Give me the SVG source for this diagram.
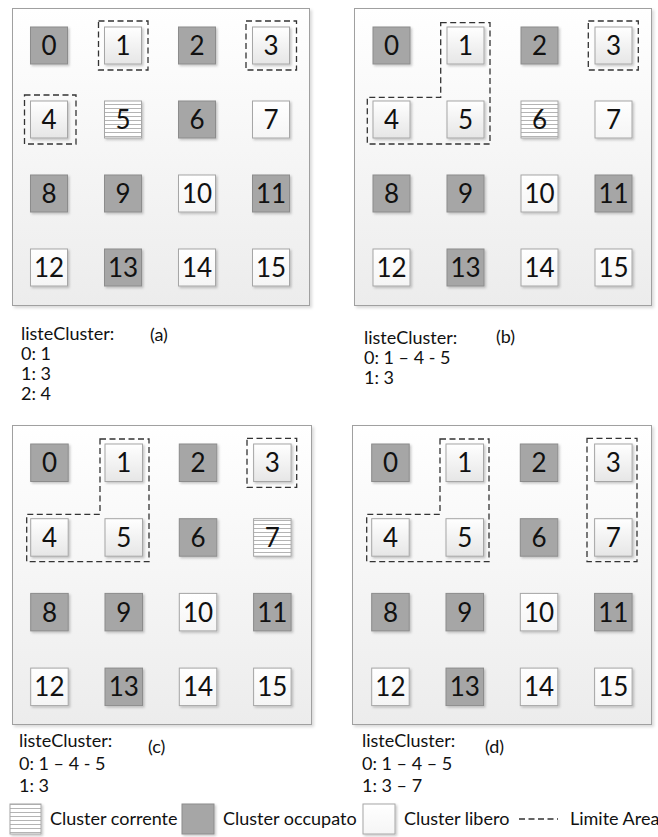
<svg xmlns="http://www.w3.org/2000/svg" width="658" height="837" viewBox="0 0 658 837">
<defs>
<linearGradient id="gPanel" x1="0" y1="0" x2="0" y2="1"><stop offset="0" stop-color="#ffffff"/><stop offset="1" stop-color="#ececec"/></linearGradient>
<linearGradient id="gArea" x1="0" y1="0" x2="0" y2="1"><stop offset="0" stop-color="#ffffff"/><stop offset="1" stop-color="#e6e6e6"/></linearGradient>
<linearGradient id="gFree" x1="0" y1="0" x2="0" y2="1"><stop offset="0" stop-color="#ffffff"/><stop offset="1" stop-color="#f5f5f5"/></linearGradient>
<pattern id="hatch" patternUnits="userSpaceOnUse" width="8" height="4"><rect width="8" height="4" fill="#ffffff"/><rect y="0" width="8" height="1" fill="#b4b4b4"/></pattern>
<filter id="sh" x="-20%" y="-20%" width="150%" height="150%"><feDropShadow dx="1.5" dy="1.5" stdDeviation="1" flood-color="#000" flood-opacity="0.22"/></filter>
<filter id="shp" x="-5%" y="-5%" width="110%" height="110%"><feDropShadow dx="2" dy="2" stdDeviation="1.5" flood-color="#000" flood-opacity="0.15"/></filter>
</defs>
<style>
.panel{fill:url(#gPanel);stroke:#a0a0a0;stroke-width:1;filter:url(#shp)}
.occ{fill:#a6a6a6;stroke:#8c8c8c;stroke-width:1;filter:url(#sh)}
.free{fill:url(#gFree);stroke:#a6a6a6;stroke-width:1;filter:url(#sh)}
.area{fill:url(#gArea);stroke:#a6a6a6;stroke-width:1;filter:url(#sh)}
.cur{fill:url(#hatch);stroke:#a6a6a6;stroke-width:1;filter:url(#sh)}
.num{font-family:Lato,"Liberation Sans",sans-serif;font-size:26px;fill:#111;text-anchor:middle}
.lbl{font-family:Lato,"Liberation Sans",sans-serif;font-size:18px;fill:#111}
.dash{fill:none;stroke:#333;stroke-width:1.3;stroke-dasharray:6 3.5}
</style>

<!-- Panel (a) -->
<g id="panel-a">
<rect class="panel" x="12.5" y="8.5" width="297" height="297"/>
<g id="a0"><rect class="occ" x="30.5" y="27" width="37" height="37"/><text class="num" x="49" y="55">0</text></g>
<g id="a1"><rect class="area" x="104.5" y="27" width="37" height="37"/><text class="num" x="123" y="55">1</text></g>
<g id="a2"><rect class="occ" x="178.5" y="27" width="37" height="37"/><text class="num" x="197" y="55">2</text></g>
<g id="a3"><rect class="area" x="252.5" y="27" width="37" height="37"/><text class="num" x="271" y="55">3</text></g>
<g id="a4"><rect class="area" x="30.5" y="101" width="37" height="37"/><text class="num" x="49" y="129">4</text></g>
<g id="a5"><rect class="cur" x="104.5" y="101" width="37" height="37"/><text class="num" x="123" y="129">5</text></g>
<g id="a6"><rect class="occ" x="178.5" y="101" width="37" height="37"/><text class="num" x="197" y="129">6</text></g>
<g id="a7"><rect class="free" x="252.5" y="101" width="37" height="37"/><text class="num" x="271" y="129">7</text></g>
<g id="a8"><rect class="occ" x="30.5" y="175" width="37" height="37"/><text class="num" x="49" y="203">8</text></g>
<g id="a9"><rect class="occ" x="104.5" y="175" width="37" height="37"/><text class="num" x="123" y="203">9</text></g>
<g id="a10"><rect class="free" x="178.5" y="175" width="37" height="37"/><text class="num" x="197" y="203">10</text></g>
<g id="a11"><rect class="occ" x="252.5" y="175" width="37" height="37"/><text class="num" x="271" y="203">11</text></g>
<g id="a12"><rect class="free" x="30.5" y="249" width="37" height="37"/><text class="num" x="49" y="277">12</text></g>
<g id="a13"><rect class="occ" x="104.5" y="249" width="37" height="37"/><text class="num" x="123" y="277">13</text></g>
<g id="a14"><rect class="free" x="178.5" y="249" width="37" height="37"/><text class="num" x="197" y="277">14</text></g>
<g id="a15"><rect class="free" x="252.5" y="249" width="37" height="37"/><text class="num" x="271" y="277">15</text></g>
</g>

<!-- Panel (b) -->
<g id="panel-b">
<rect class="panel" x="354.5" y="8.5" width="297" height="297"/>
<g id="b0"><rect class="occ" x="373" y="27" width="37" height="37"/><text class="num" x="391.5" y="55">0</text></g>
<g id="b1"><rect class="area" x="447" y="27" width="37" height="37"/><text class="num" x="465.5" y="55">1</text></g>
<g id="b2"><rect class="occ" x="521" y="27" width="37" height="37"/><text class="num" x="539.5" y="55">2</text></g>
<g id="b3"><rect class="area" x="595" y="27" width="37" height="37"/><text class="num" x="613.5" y="55">3</text></g>
<g id="b4"><rect class="area" x="373" y="101" width="37" height="37"/><text class="num" x="391.5" y="129">4</text></g>
<g id="b5"><rect class="area" x="447" y="101" width="37" height="37"/><text class="num" x="465.5" y="129">5</text></g>
<g id="b6"><rect class="cur" x="521" y="101" width="37" height="37"/><text class="num" x="539.5" y="129">6</text></g>
<g id="b7"><rect class="free" x="595" y="101" width="37" height="37"/><text class="num" x="613.5" y="129">7</text></g>
<g id="b8"><rect class="occ" x="373" y="175" width="37" height="37"/><text class="num" x="391.5" y="203">8</text></g>
<g id="b9"><rect class="occ" x="447" y="175" width="37" height="37"/><text class="num" x="465.5" y="203">9</text></g>
<g id="b10"><rect class="free" x="521" y="175" width="37" height="37"/><text class="num" x="539.5" y="203">10</text></g>
<g id="b11"><rect class="occ" x="595" y="175" width="37" height="37"/><text class="num" x="613.5" y="203">11</text></g>
<g id="b12"><rect class="free" x="373" y="249" width="37" height="37"/><text class="num" x="391.5" y="277">12</text></g>
<g id="b13"><rect class="occ" x="447" y="249" width="37" height="37"/><text class="num" x="465.5" y="277">13</text></g>
<g id="b14"><rect class="free" x="521" y="249" width="37" height="37"/><text class="num" x="539.5" y="277">14</text></g>
<g id="b15"><rect class="free" x="595" y="249" width="37" height="37"/><text class="num" x="613.5" y="277">15</text></g>
</g>

<!-- Panel (c) -->
<g id="panel-c">
<rect class="panel" x="12.5" y="425.5" width="299" height="299"/>
<g id="c0"><rect class="occ" x="30.7" y="444" width="37.5" height="37.5"/><text class="num" x="49.45" y="472.2">0</text></g>
<g id="c1"><rect class="area" x="105" y="444" width="37.5" height="37.5"/><text class="num" x="123.75" y="472.2">1</text></g>
<g id="c2"><rect class="occ" x="179.3" y="444" width="37.5" height="37.5"/><text class="num" x="198.05" y="472.2">2</text></g>
<g id="c3"><rect class="area" x="253.6" y="444" width="37.5" height="37.5"/><text class="num" x="272.35" y="472.2">3</text></g>
<g id="c4"><rect class="area" x="30.7" y="518.7" width="37.5" height="37.5"/><text class="num" x="49.45" y="546.9">4</text></g>
<g id="c5"><rect class="area" x="105" y="518.7" width="37.5" height="37.5"/><text class="num" x="123.75" y="546.9">5</text></g>
<g id="c6"><rect class="occ" x="179.3" y="518.7" width="37.5" height="37.5"/><text class="num" x="198.05" y="546.9">6</text></g>
<g id="c7"><rect class="cur" x="253.6" y="518.7" width="37.5" height="37.5"/><text class="num" x="272.35" y="546.9">7</text></g>
<g id="c8"><rect class="occ" x="30.7" y="593.4" width="37.5" height="37.5"/><text class="num" x="49.45" y="621.6">8</text></g>
<g id="c9"><rect class="occ" x="105" y="593.4" width="37.5" height="37.5"/><text class="num" x="123.75" y="621.6">9</text></g>
<g id="c10"><rect class="free" x="179.3" y="593.4" width="37.5" height="37.5"/><text class="num" x="198.05" y="621.6">10</text></g>
<g id="c11"><rect class="occ" x="253.6" y="593.4" width="37.5" height="37.5"/><text class="num" x="272.35" y="621.6">11</text></g>
<g id="c12"><rect class="free" x="30.7" y="668.1" width="37.5" height="37.5"/><text class="num" x="49.45" y="696.3">12</text></g>
<g id="c13"><rect class="occ" x="105" y="668.1" width="37.5" height="37.5"/><text class="num" x="123.75" y="696.3">13</text></g>
<g id="c14"><rect class="free" x="179.3" y="668.1" width="37.5" height="37.5"/><text class="num" x="198.05" y="696.3">14</text></g>
<g id="c15"><rect class="free" x="253.6" y="668.1" width="37.5" height="37.5"/><text class="num" x="272.35" y="696.3">15</text></g>
</g>

<!-- Panel (d) -->
<g id="panel-d">
<rect class="panel" x="352.5" y="425.5" width="299" height="299"/>
<g id="d0"><rect class="occ" x="371.7" y="444" width="37.5" height="37.5"/><text class="num" x="390.45" y="472.2">0</text></g>
<g id="d1"><rect class="area" x="446" y="444" width="37.5" height="37.5"/><text class="num" x="464.75" y="472.2">1</text></g>
<g id="d2"><rect class="occ" x="520.3" y="444" width="37.5" height="37.5"/><text class="num" x="539.05" y="472.2">2</text></g>
<g id="d3"><rect class="area" x="594.6" y="444" width="37.5" height="37.5"/><text class="num" x="613.35" y="472.2">3</text></g>
<g id="d4"><rect class="area" x="371.7" y="518.7" width="37.5" height="37.5"/><text class="num" x="390.45" y="546.9">4</text></g>
<g id="d5"><rect class="area" x="446" y="518.7" width="37.5" height="37.5"/><text class="num" x="464.75" y="546.9">5</text></g>
<g id="d6"><rect class="occ" x="520.3" y="518.7" width="37.5" height="37.5"/><text class="num" x="539.05" y="546.9">6</text></g>
<g id="d7"><rect class="area" x="594.6" y="518.7" width="37.5" height="37.5"/><text class="num" x="613.35" y="546.9">7</text></g>
<g id="d8"><rect class="occ" x="371.7" y="593.4" width="37.5" height="37.5"/><text class="num" x="390.45" y="621.6">8</text></g>
<g id="d9"><rect class="occ" x="446" y="593.4" width="37.5" height="37.5"/><text class="num" x="464.75" y="621.6">9</text></g>
<g id="d10"><rect class="free" x="520.3" y="593.4" width="37.5" height="37.5"/><text class="num" x="539.05" y="621.6">10</text></g>
<g id="d11"><rect class="occ" x="594.6" y="593.4" width="37.5" height="37.5"/><text class="num" x="613.35" y="621.6">11</text></g>
<g id="d12"><rect class="free" x="371.7" y="668.1" width="37.5" height="37.5"/><text class="num" x="390.45" y="696.3">12</text></g>
<g id="d13"><rect class="occ" x="446" y="668.1" width="37.5" height="37.5"/><text class="num" x="464.75" y="696.3">13</text></g>
<g id="d14"><rect class="free" x="520.3" y="668.1" width="37.5" height="37.5"/><text class="num" x="539.05" y="696.3">14</text></g>
<g id="d15"><rect class="free" x="594.6" y="668.1" width="37.5" height="37.5"/><text class="num" x="613.35" y="696.3">15</text></g>
</g>

<!-- Area boundaries -->
<g id="areas">
<rect class="dash" x="98.5" y="21" width="49.5" height="49"/>
<rect class="dash" x="246" y="21" width="50.5" height="49"/>
<rect class="dash" x="24.5" y="95" width="51.5" height="49"/>
<path class="dash" d="M440.7,22.7 H490 V144 H367.3 V97.3 H440.7 Z"/>
<rect class="dash" x="588.3" y="21" width="50" height="49"/>
<path class="dash" d="M100,439 H149 V561.7 H26.7 V514.3 H100 Z"/>
<rect class="dash" x="247" y="438.3" width="49.7" height="49"/>
<path class="dash" d="M440,439 H489 V561.7 H366.7 V514.3 H440 Z"/>
<rect class="dash" x="587" y="438.3" width="50" height="123.4"/>
</g>

<!-- Captions -->
<g id="caption-a">
<text class="lbl" x="21" y="340">listeCluster:</text>
<text class="lbl" x="150" y="341">(a)</text>
<text class="lbl" x="21" y="360">0: 1</text>
<text class="lbl" x="21" y="380">1: 3</text>
<text class="lbl" x="21" y="400">2: 4</text>
</g>
<g id="caption-b">
<text class="lbl" x="364" y="344">listeCluster:</text>
<text class="lbl" x="496" y="343">(b)</text>
<text class="lbl" x="364" y="364">0: 1 – 4 - 5</text>
<text class="lbl" x="364" y="384">1: 3</text>
</g>
<g id="caption-c">
<text class="lbl" x="19" y="747">listeCluster:</text>
<text class="lbl" x="148" y="753">(c)</text>
<text class="lbl" x="19" y="770">0: 1 – 4 - 5</text>
<text class="lbl" x="19" y="792">1: 3</text>
</g>
<g id="caption-d">
<text class="lbl" x="362" y="747">listeCluster:</text>
<text class="lbl" x="485" y="753">(d)</text>
<text class="lbl" x="362" y="770">0: 1 – 4 – 5</text>
<text class="lbl" x="362" y="792">1: 3 – 7</text>
</g>

<!-- Legend -->
<g id="legend">
<rect class="cur" x="10" y="804" width="31" height="30"/>
<text class="lbl" x="50" y="825">Cluster corrente</text>
<rect class="occ" x="182" y="804" width="32" height="30"/>
<text class="lbl" x="223" y="825">Cluster occupato</text>
<rect class="free" x="363" y="804" width="32" height="30"/>
<text class="lbl" x="404" y="825">Cluster libero</text>
<line class="dash" x1="519" y1="819" x2="558" y2="819" stroke-dasharray="7 5"/>
<text class="lbl" x="570" y="825">Limite Area</text>
</g>
</svg>
